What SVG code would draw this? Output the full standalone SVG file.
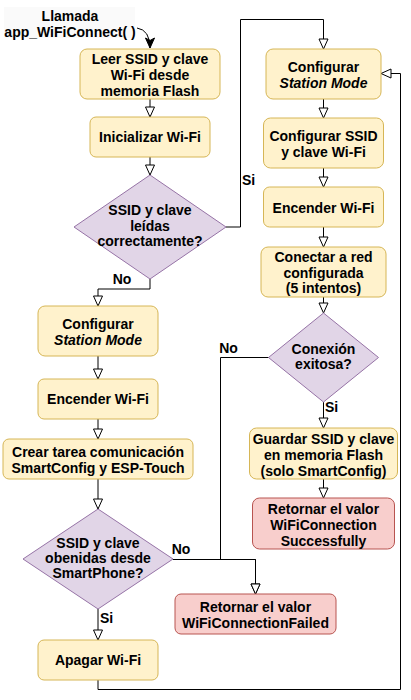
<svg xmlns="http://www.w3.org/2000/svg" width="411" height="700" viewBox="0 0 411 700">
<style>
text{font-family:"Liberation Sans",Arial,Helvetica,sans-serif;font-size:14px;font-weight:bold;fill:#000;text-anchor:middle}
.y{fill:#fff2cc;stroke:#d6b656;stroke-width:1}
.p{fill:#e1d5e7;stroke:#9673a6;stroke-width:1}
.r{fill:#f8cecc;stroke:#b85450;stroke-width:1}
.e{fill:none;stroke:#000;stroke-width:1;marker-end:url(#a)}
.l{text-anchor:start}
</style>
<defs>
<marker id="a" markerUnits="userSpaceOnUse" markerWidth="12" markerHeight="12" refX="10" refY="5" orient="auto" viewBox="-1 -1 12 12">
<path d="M0,0.5 L10,5 L0,9.5 Z" fill="#fff" stroke="#000" stroke-width="1"/>
</marker>
<marker id="f" markerUnits="userSpaceOnUse" markerWidth="12" markerHeight="12" refX="10" refY="5" orient="auto" viewBox="-1 -1 12 12">
<path d="M0,0.5 L10,5 L0,9.5 L2.5,5 Z" fill="#000" stroke="#000" stroke-width="1"/>
</marker>
</defs>
<rect width="411" height="700" fill="#fff"/>
<g id="start">
<rect x="4" y="7" width="131" height="31" fill="#fafafa"/>
<text x="70" y="21">Llamada</text>
<text x="70" y="37">app_WiFiConnect( )</text>
</g>
<g id="connectors">
<path d="M137,28 Q150,30 150,48" fill="none" stroke="#000" stroke-width="1" marker-end="url(#f)"/>
<path class="e" d="M150,99 V117"/>
<path class="e" d="M150,157 V175"/>
<path class="e" d="M150,279 V289 H98 V306"/>
<path class="e" d="M226,227 H240.5 V19.5 H323.5 V49"/>
<path class="e" d="M98,356 V379"/>
<path class="e" d="M98,419 V439"/>
<path class="e" d="M98,479 V509"/>
<path class="e" d="M98,609 V640"/>
<path class="e" d="M173,559.5 H255.5 V594"/>
<path class="e" d="M269,357.5 H220.5 V559.5 H255.5 V594"/>
<path class="e" d="M98,680 V689.5 H400.5 V73.5 H381"/>
<path class="e" d="M323.5,99 V118"/>
<path class="e" d="M323.5,168 V187"/>
<path class="e" d="M323.5,227 V247"/>
<path class="e" d="M323.5,297 V313"/>
<path class="e" d="M323.5,402 V428"/>
<path class="e" d="M323.5,479 V498"/>
<text x="122" y="284">No</text>
<text x="248.5" y="185">Si</text>
<text x="181" y="554">No</text>
<text class="l" x="100" y="623">Si</text>
<text x="228.5" y="353">No</text>
<text class="l" x="325" y="412">Si</text>
</g>
<g id="n1"><rect class="y" x="80" y="49" width="140" height="50" rx="7"/>
<text x="150" y="64">Leer SSID y clave</text><text x="150" y="80">Wi-Fi desde</text><text x="150" y="96">memoria Flash</text></g>
<g id="n2"><rect class="y" x="90" y="117" width="120" height="40" rx="6"/>
<text x="150" y="142">Inicializar Wi-Fi</text></g>
<g id="d1"><path class="p" d="M150,175 L226,227 L150,279 L74,227 Z"/>
<text x="150" y="215">SSID y clave</text><text x="150" y="231">leídas</text><text x="150" y="246">correctamente?</text></g>
<g id="n3"><rect class="y" x="38" y="306" width="120" height="50" rx="7"/>
<text x="98" y="329">Configurar</text><text x="98" y="345" font-style="italic">Station Mode</text></g>
<g id="n4"><rect class="y" x="38" y="379" width="120" height="40" rx="6"/>
<text x="98" y="404">Encender Wi-Fi</text></g>
<g id="n5"><rect class="y" x="3" y="439" width="190" height="40" rx="6"/>
<text x="98" y="456.5">Crear tarea comunicación</text><text x="98" y="472.5">SmartConfig y ESP-Touch</text></g>
<g id="d2"><path class="p" d="M98,509 L173,559 L98,609 L23,559 Z"/>
<text x="98" y="548">SSID y clave</text><text x="98" y="563">obenidas desde</text><text x="98" y="578">SmartPhone?</text></g>
<g id="n6"><rect class="y" x="38" y="640" width="120" height="40" rx="6"/>
<text x="98" y="665">Apagar Wi-Fi</text></g>
<g id="r1"><rect class="y" x="266" y="49" width="115" height="50" rx="7"/>
<text x="323.5" y="71.5">Configurar</text><text x="323.5" y="87.5" font-style="italic">Station Mode</text></g>
<g id="r2"><rect class="y" x="263.5" y="118" width="120" height="50" rx="7"/>
<text x="323.5" y="141">Configurar SSID</text><text x="323.5" y="157">y clave Wi-Fi</text></g>
<g id="r3"><rect class="y" x="263.5" y="187" width="120" height="40" rx="6"/>
<text x="323.5" y="213">Encender Wi-Fi</text></g>
<g id="r4"><rect class="y" x="261" y="247" width="125" height="50" rx="7"/>
<text x="323.5" y="262">Conectar a red</text><text x="323.5" y="278">configurada</text><text x="323.5" y="293">(5 intentos)</text></g>
<g id="d3"><path class="p" d="M323.5,313 L378.5,357.5 L323.5,402 L268.5,357.5 Z"/>
<text x="323.5" y="353.5">Conexión</text><text x="323.5" y="369">exitosa?</text></g>
<g id="r5"><rect class="y" x="249.5" y="428" width="148" height="51" rx="7"/>
<text x="323.5" y="444">Guardar SSID y clave</text><text x="323.5" y="460">en memoria Flash</text><text x="323.5" y="476">(solo SmartConfig)</text></g>
<g id="r6"><rect class="r" x="252.5" y="498" width="142" height="51" rx="7"/>
<text x="323.5" y="514">Retornar el valor</text><text x="323.5" y="530">WiFiConnection</text><text x="323.5" y="546">Successfully</text></g>
<g id="r7"><rect class="r" x="175" y="594" width="161" height="40" rx="6"/>
<text x="255.5" y="612">Retornar el valor</text><text x="255.5" y="628">WiFiConnectionFailed</text></g>
</svg>
